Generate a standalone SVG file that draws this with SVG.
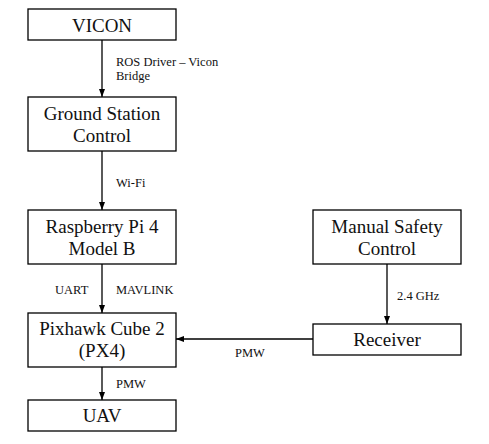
<svg xmlns="http://www.w3.org/2000/svg" width="489" height="444" viewBox="0 0 489 444">
<defs>
<style>
.box{fill:#fff;stroke:#000;stroke-width:1.3}
.t{font-family:"Liberation Serif","Times New Roman",serif;font-size:19px;fill:#111;text-anchor:middle}
.l{font-family:"Liberation Serif","Times New Roman",serif;font-size:12.5px;fill:#111}
.c{fill:none;stroke:#000;stroke-width:1.3;marker-end:url(#ah)}
</style>
<marker id="ah" markerUnits="userSpaceOnUse" markerWidth="8" markerHeight="6" refX="8" refY="3" orient="auto">
<path d="M0,0 L8,3 L0,6 Z" fill="#000"/>
</marker>
</defs>
<rect width="489" height="444" fill="#fff"/>
<g id="connectors">
<line class="c" x1="102" y1="40" x2="102" y2="97"/>
<line class="c" x1="102" y1="151" x2="102" y2="210"/>
<line class="c" x1="102" y1="264" x2="102" y2="313"/>
<line class="c" x1="102" y1="367" x2="102" y2="400"/>
<line class="c" x1="387" y1="264" x2="387" y2="324"/>
<line class="c" x1="313" y1="339" x2="176" y2="339"/>
<text class="l" x="116" y="66">ROS Driver – Vicon</text>
<text class="l" x="116" y="80">Bridge</text>
<text class="l" x="116" y="187">Wi-Fi</text>
<text class="l" x="55" y="294">UART</text>
<text class="l" x="116" y="294">MAVLINK</text>
<text class="l" x="116" y="388">PMW</text>
<text class="l" x="397" y="300">2.4 GHz</text>
<text class="l" x="235" y="357">PMW</text>
</g>
<g id="vicon"><rect class="box" x="28" y="9" width="148" height="31"/><text class="t" x="102" y="32">VICON</text></g>
<g id="ground"><rect class="box" x="28" y="97" width="148" height="54"/><text class="t" x="102" y="120">Ground Station</text><text class="t" x="102" y="142">Control</text></g>
<g id="raspberry"><rect class="box" x="28" y="210" width="148" height="54"/><text class="t" x="102" y="233">Raspberry Pi 4</text><text class="t" x="102" y="255">Model B</text></g>
<g id="pixhawk"><rect class="box" x="28" y="313" width="148" height="54"/><text class="t" x="102" y="335">Pixhawk Cube 2</text><text class="t" x="102" y="357">(PX4)</text></g>
<g id="uav"><rect class="box" x="28" y="400" width="148" height="31"/><text class="t" x="102" y="422">UAV</text></g>
<g id="manual"><rect class="box" x="313" y="210" width="148" height="54"/><text class="t" x="387" y="233">Manual Safety</text><text class="t" x="387" y="255">Control</text></g>
<g id="receiver"><rect class="box" x="313" y="324" width="148" height="31"/><text class="t" x="387" y="346">Receiver</text></g>
</svg>
